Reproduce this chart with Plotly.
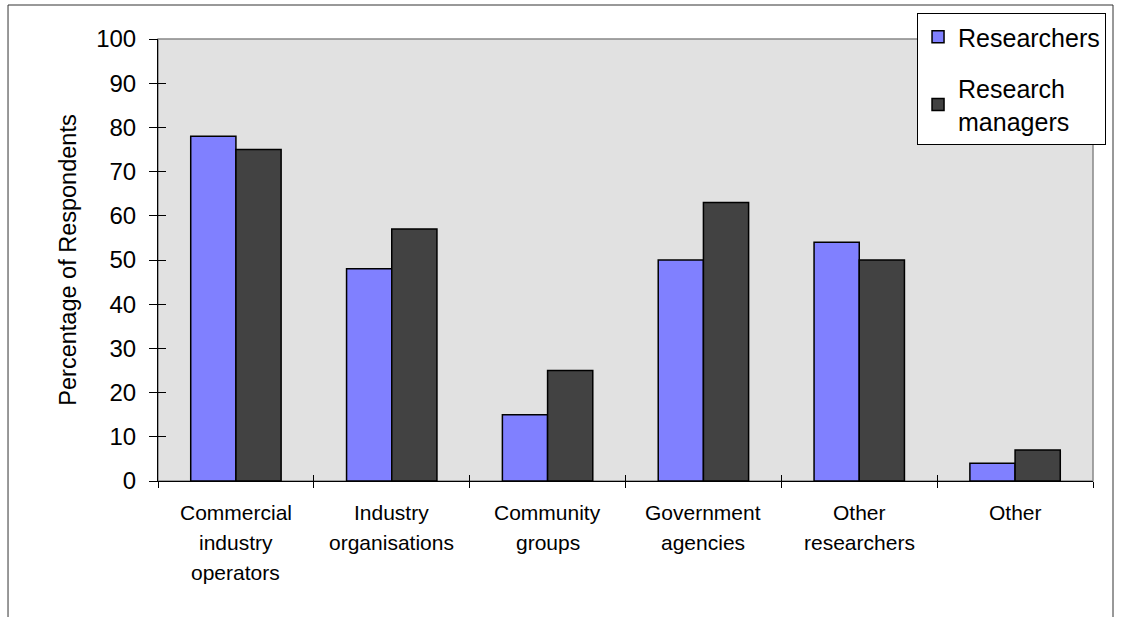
import plotly.graph_objects as go

# Survey results: who respondents engage with
categories = [
    "Commercial<br>industry<br>operators",
    "Industry<br>organisations",
    "Community<br>groups",
    "Government<br>agencies",
    "Other<br>researchers",
    "Other",
]
researchers = [78, 48, 15, 50, 54, 4]
research_managers = [75, 57, 25, 63, 50, 7]
series_names = ["Researchers", "Research<br>managers"]
y_ticks = [0, 10, 20, 30, 40, 50, 60, 70, 80, 90, 100]

FONT = "Liberation Sans, Arial, sans-serif"
x_idx = list(range(len(categories)))

fig = go.Figure()
fig.add_trace(go.Bar(
    x=x_idx, y=researchers, name=series_names[0],
    marker=dict(color="#8080ff", line=dict(color="#000000", width=1.5)),
    legendgroup="a",
))
fig.add_trace(go.Bar(
    x=x_idx, y=research_managers, name=series_names[1],
    marker=dict(color="#424242", line=dict(color="#000000", width=1.5)),
    legendgroup="b",
))
# empty helper trace so the overlay axes (inner tick marks) get drawn
fig.add_trace(go.Scatter(x=[], y=[], xaxis="x2", yaxis="y2", showlegend=False))

# category labels below the axis, one line at a time
annotations = []
for i, label in enumerate(categories):
    for j, line in enumerate(label.split("<br>")):
        annotations.append(dict(
            x=i, y=0, xref="x", yref="paper", text=line, showarrow=False,
            xanchor="center", yanchor="middle", yshift=-31 - 30 * j,
            font=dict(family=FONT, size=21, color="#000000"),
        ))

fig.update_layout(
    width=1139, height=617,
    margin=dict(l=158, r=46, t=39, b=136),
    paper_bgcolor="#ffffff",
    plot_bgcolor="#e1e1e1",
    barmode="group",
    bargap=0.42,
    bargroupgap=0,
    font=dict(family=FONT, size=24, color="#000000"),
    xaxis=dict(
        range=[-0.5, len(categories) - 0.5],
        tickvals=[i - 0.5 for i in range(len(categories) + 1)],
        showticklabels=False,
        ticks="outside", ticklen=6, tickwidth=1, tickcolor="#000000",
        showline=True, linecolor="#000000", linewidth=1,
        showgrid=False, zeroline=False, fixedrange=True,
    ),
    xaxis2=dict(
        overlaying="x", anchor="y2",
        range=[-0.5, len(categories) - 0.5],
        tickvals=[i - 0.5 for i in range(len(categories) + 1)],
        showticklabels=False,
        ticks="inside", ticklen=6, tickwidth=1, tickcolor="#000000",
        showline=False, showgrid=False, zeroline=False,
    ),
    yaxis=dict(
        range=[0, 100],
        tickvals=y_ticks,
        ticks="outside", ticklen=8, tickwidth=1, tickcolor="#000000",
        ticklabelstandoff=8,
        tickfont=dict(family=FONT, size=24, color="#000000"),
        showline=True, linecolor="#000000", linewidth=1,
        showgrid=False, zeroline=False,
        title=dict(text="Percentage of Respondents",
                   font=dict(family=FONT, size=23.5, color="#000000"),
                   standoff=12),
    ),
    yaxis2=dict(
        overlaying="y", anchor="x2",
        range=[0, 100],
        tickvals=y_ticks,
        showticklabels=False,
        ticks="inside", ticklen=8, tickwidth=1, tickcolor="#000000",
        showline=False, showgrid=False, zeroline=False,
    ),
    legend=dict(
        x=0.8118, y=1.0588, xanchor="left", yanchor="top",
        bgcolor="#ffffff", bordercolor="#000000", borderwidth=1,
        font=dict(family=FONT, size=25, color="#000000"),
        traceorder="grouped", tracegroupgap=16,
        itemwidth=30,
    ),
    annotations=annotations,
    shapes=[
        # plot area border (top and right edges show in grey)
        dict(type="rect", xref="paper", yref="paper", x0=0, x1=1, y0=0, y1=1,
             line=dict(color="#888888", width=1.5), layer="below"),
        # outer chart frame
        dict(type="rect", xref="paper", yref="paper",
             x0=-0.1604, x1=1.0214, y0=-0.45, y1=1.0769,
             line=dict(color="#333333", width=1), layer="below"),
    ],
)

fig.write_html("out.html")
